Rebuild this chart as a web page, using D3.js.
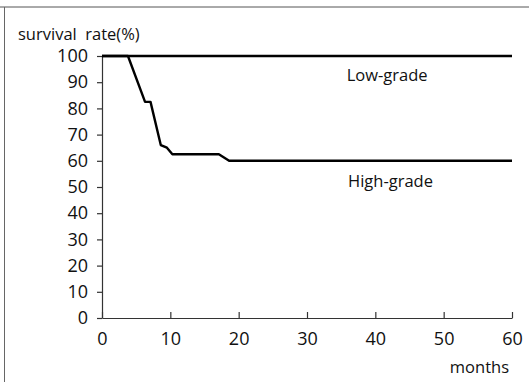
<!DOCTYPE html>
<html>
<head>
<meta charset="utf-8">
<script src="https://cdn.jsdelivr.net/npm/d3@7"></script>
<style>
  body { margin: 0; background: #fff; }
  svg { display: block; font-family: "Open Sans", Lato, sans-serif; }
  .axis path, .axis line { stroke: #333; stroke-width: 1.2; }
  .axis text { font-size: 18px; fill: #111; font-family: "Open Sans", Lato, sans-serif; }
</style>
</head>
<body>
<div id="container"></div>
<script>
// survival curves (months, %)
var lowMonths = [0, 60];
var lowSurvival = [100, 100];
var highMonths = [0, 3.8, 6.3, 7.1, 8.6, 9.5, 10.3, 17.1, 18.6, 60];
var highSurvival = [100, 100, 82.5, 82.5, 66, 65, 62.5, 62.5, 60, 60];
var xTicks = [0, 10, 20, 30, 40, 50, 60];
var yTicks = [0, 10, 20, 30, 40, 50, 60, 70, 80, 90, 100];

var width = 529, height = 382;
var margin = {top: 56, right: 17, bottom: 64, left: 102};
var w = width - margin.left - margin.right;
var h = height - margin.top - margin.bottom;

var svg = d3.select("#container").append("svg")
    .attr("width", width)
    .attr("height", height);

// frame lines of the scanned figure
svg.append("line").attr("x1", 0).attr("x2", width).attr("y1", 7).attr("y2", 7)
    .attr("stroke", "#555").attr("stroke-width", 1);
svg.append("line").attr("x1", 4.5).attr("x2", 4.5).attr("y1", 7).attr("y2", height)
    .attr("stroke", "#666").attr("stroke-width", 1);

var g = svg.append("g").attr("transform", "translate(" + margin.left + "," + margin.top + ")");

var x = d3.scaleLinear().domain([0, 60]).range([0, w]);
var y = d3.scaleLinear().domain([0, 100]).range([h, 0]);

var xAxis = d3.axisBottom(x).tickValues(xTicks).tickSizeInner(-6).tickSizeOuter(0).tickPadding(14);
var yAxis = d3.axisLeft(y).tickValues(yTicks).tickSizeInner(5).tickSizeOuter(0).tickPadding(9);

g.append("g").attr("class", "x axis")
    .attr("transform", "translate(0," + h + ")")
    .call(xAxis);

g.append("g").attr("class", "y axis")
    .call(yAxis);

var line = d3.line()
    .x(function(d) { return x(d[0]); })
    .y(function(d) { return y(d[1]); });

var lowData = lowMonths.map(function(m, i) { return [m, lowSurvival[i]]; });
var highData = highMonths.map(function(m, i) { return [m, highSurvival[i]]; });

g.append("path").datum(lowData)
    .attr("d", line).attr("fill", "none").attr("stroke", "#000").attr("stroke-width", 2.4);
g.append("path").datum(highData)
    .attr("d", line).attr("fill", "none").attr("stroke", "#000").attr("stroke-width", 2.4)
    .attr("stroke-linejoin", "round");

g.append("text").attr("x", x(35.8)).attr("y", y(90.3))
    .attr("font-size", 16.5).attr("fill", "#111").text("Low-grade");
g.append("text").attr("x", x(36)).attr("y", y(50))
    .attr("font-size", 16.5).attr("fill", "#111").text("High-grade");

svg.append("text").attr("x", 18).attr("y", 40)
    .attr("font-size", 16.5).attr("fill", "#111")
    .style("white-space", "pre")
    .text("survival  rate(%)");
svg.append("text").attr("x", width - 20).attr("y", 373)
    .attr("text-anchor", "end")
    .attr("font-size", 16.5).attr("fill", "#111").text("months");
</script>
</body>
</html>
